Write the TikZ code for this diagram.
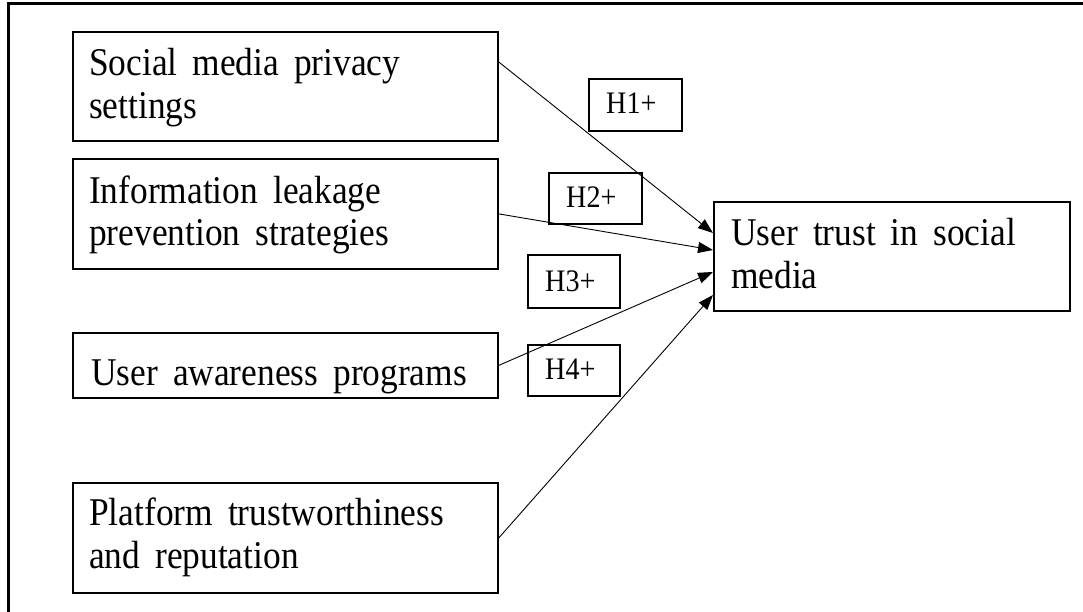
\documentclass[tikz,border=0pt]{standalone}
\usepackage{fontspec}
\setmainfont{Liberation Serif}[FakeStretch=0.9,WordSpace=1.7]
\usetikzlibrary{arrows.meta}
\tikzset{
  frameline/.style={line width=3pt},
  box/.style={draw, line width=1.8pt, rectangle, inner sep=0pt, anchor=north west},
  lbl/.style={anchor=base west, inner sep=0pt, align=left,
    font=\fontsize{39.3}{43}\selectfont},
  hyp/.style={anchor=base west, inner sep=0pt,
    font=\fontsize{31.3}{34}\selectfont},
  link/.style={line width=0.9pt, -{Triangle[length=15pt,width=11pt]}}
}
\begin{document}
\begin{tikzpicture}[x=1pt,y=-1pt]
\useasboundingbox (0,0) rectangle (1083,612);
\clip (0,0) rectangle (1083,612);
% outer frame (continues past the right and bottom edges)
\draw[frameline] (8,630) |- (1100,4);

% construct boxes
\node[box, minimum width=425pt, minimum height=109pt] (b1) at (72,31) {};
\node[box, minimum width=425pt, minimum height=110pt] (b2) at (72,158) {};
\node[box, minimum width=425pt, minimum height=65pt]  (b3) at (72,332) {};
\node[box, minimum width=425pt, minimum height=110pt] (b4) at (72,482) {};
\node[box, minimum width=356pt, minimum height=109pt] (bt) at (713,201) {};

% box texts (placed by the baseline of their last line)
\node[lbl] (t1) at (89,119)  {Social media privacy\\settings};
\node[lbl] (t2) at (89,246) {Information leakage\\prevention strategies};
\node[lbl] (t3) at (91,385) {User awareness programs};
\node[lbl] (t4) at (89,568) {Platform trustworthiness\\and reputation};
\node[lbl] (tt) at (731,288) {User trust in social\\media};

% hypothesis labels
\node[box, minimum width=93pt, minimum height=52pt] (h1) at (588,78)  {};
\node[box, minimum width=93pt, minimum height=51pt] (h2) at (548,172) {};
\node[box, minimum width=92pt, minimum height=53pt] (h3) at (527,254) {};
\node[box, minimum width=92pt, minimum height=51pt] (h4) at (527,344) {};
\node[hyp] (l1) at (606,114) {H1+};
\node[hyp] (l2) at (566,208) {H2+};
\node[hyp] (l3) at (545,291) {H3+};
\node[hyp] (l4) at (545,379) {H4+};

% paths
\draw[link] ([yshift=-31pt]b1.north east) -- ([yshift=-32pt]bt.north west);
\draw[link] (b2.east) -- ([yshift=-49pt]bt.north west);
\draw[link] (b3.east) -- ([yshift=-71pt]bt.north west);
\draw[link] (b4.east) -- ([yshift=-94pt]bt.north west);
\end{tikzpicture}
\end{document}
